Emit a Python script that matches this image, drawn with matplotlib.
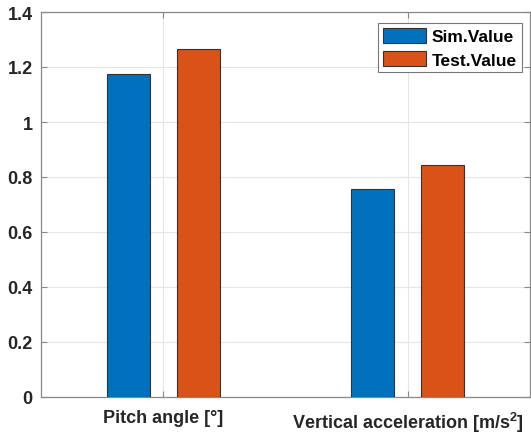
import matplotlib
matplotlib.use("Agg")
import matplotlib.pyplot as plt
import numpy as np

categories = ["Pitch angle [°]", "Vertical acceleration [m/s$^\\mathbf{2}$]"]
sim_values = [1.173, 0.757]
test_values = [1.265, 0.842]
series_names = ["Sim.Value", "Test.Value"]
yticks = [0, 0.2, 0.4, 0.6, 0.8, 1, 1.2, 1.4]
ytick_labels = ["0", "0.2", "0.4", "0.6", "0.8", "1", "1.2", "1.4"]

plt.rcParams['font.family'] = ['Liberation Sans', 'DejaVu Sans']
plt.rcParams['mathtext.fontset'] = 'custom'
plt.rcParams['mathtext.rm'] = 'Liberation Sans:bold'
plt.rcParams['mathtext.bf'] = 'Liberation Sans:bold'

fig = plt.figure(figsize=(5.31, 4.39), dpi=100)
ax = fig.add_axes([41/531, 1-398/439, 1-41/531 - 0.002, (398-13)/439])

x = np.arange(1, len(categories) + 1)
w = 0.175
off = 0.143
ax.bar(x - off, sim_values, w, color='#0072BD', edgecolor='#333333', linewidth=0.8,
       label=series_names[0], zorder=3)
ax.bar(x + off, test_values, w, color='#D95319', edgecolor='#333333', linewidth=0.8,
       label=series_names[1], zorder=3)

ax.set_xlim(0.5, 2.5)
ax.set_ylim(0, 1.4)
ax.set_yticks(yticks)
ax.set_yticklabels(ytick_labels, fontsize=13, fontweight='bold', color='#262626')
ax.set_xticks(x)
ax.set_xticklabels(categories, fontsize=13, fontweight='bold', color='#262626')
ax.grid(True, color='#e6e6e6', linewidth=0.8, zorder=0)
ax.tick_params(direction='in', length=4, top=True, right=True, color='#888888', width=0.8)
ax.tick_params(axis='x', pad=9)
ax.tick_params(axis='y', pad=6)
for s in ax.spines.values():
    s.set_color('#888888')
    s.set_linewidth(0.9)

leg = ax.legend(loc='upper right', bbox_to_anchor=(0.983, 0.971),
                prop={'weight': 'bold', 'size': 12.5},
                fancybox=False, edgecolor='#777777', framealpha=1, handlelength=2.5,
                handleheight=0.95, borderpad=0.28, labelspacing=0.38, handletextpad=0.3,
                borderaxespad=0.0)
leg.get_frame().set_linewidth(0.8)

fig.savefig("out.png", dpi=100)
